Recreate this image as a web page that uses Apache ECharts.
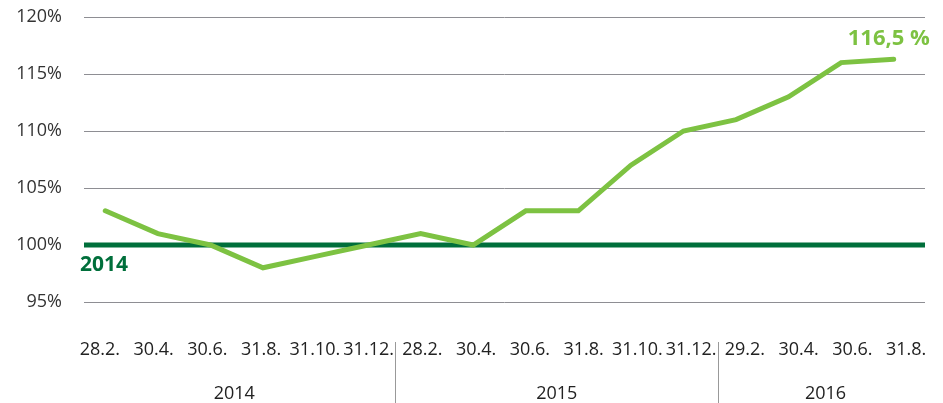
<!DOCTYPE html>
<html>
<head>
<meta charset="utf-8">
<script src="https://cdn.jsdelivr.net/npm/echarts@6/dist/echarts.min.js"></script>
<style>
html,body{margin:0;padding:0;background:#fff;}
#chart{width:943px;height:403px;}
</style>
</head>
<body>
<div id="chart"></div>
<script>
// ---- data ----
var dates = ['28.2.','30.4.','30.6.','31.8.','31.10.','31.12.','28.2.','30.4.','30.6.','31.8.','31.10.','31.12.','29.2.','30.4.','30.6.','31.8.'];
var values = [103, 101, 100, 98, 99, 100, 101, 100, 103, 103, 107, 110, 111, 113, 116, 116.3];
var years = ['2014', '2015', '2016'];
var yearCounts = [6, 6, 4];
var baseValue = 100;
var baseLabel = '2014';
var endLabel = '116,5 %';
var yMin = 95, yMax = 120, yStep = 5;

// ---- derived year-axis slots (half-category boundaries) ----
var slots = [];
for (var k = 0; k <= dates.length * 2; k++) slots.push('');
var sepSlots = {};
var start = 0;
years.forEach(function (y, i) {
  slots[2 * start + yearCounts[i]] = y;
  if (start > 0) sepSlots[2 * start] = true;
  start += yearCounts[i];
});

var FONT = '"Open Sans", "Noto Sans", sans-serif';
var LIGHT = '#7dc242';
var DARK = '#006f3b';

var chart = echarts.init(document.getElementById('chart'), null, {renderer: 'canvas'});
chart.setOption({
  animation: false,
  backgroundColor: '#fff',
  grid: [
    {left: 84, right: 18, top: 17, bottom: 101},   // gridlines + baseline
    {left: 79, right: 23, top: 17, bottom: 101},   // data line
    {left: 73, right: 10, top: 17, bottom: 101}    // category labels
  ],
  xAxis: [
    {type: 'value', gridIndex: 0, min: 0, max: 1, show: false},
    {type: 'category', gridIndex: 1, data: dates, boundaryGap: true, show: false},
    {
      type: 'category', gridIndex: 2, data: dates, boundaryGap: true,
      axisLine: {show: false}, axisTick: {show: false}, splitLine: {show: false},
      axisLabel: {interval: 0, margin: 39, fontSize: 18, color: '#222', fontFamily: FONT}
    },
    {
      type: 'category', gridIndex: 2, data: slots, boundaryGap: false,
      position: 'bottom', offset: 40,
      axisLine: {show: false},
      axisTick: {
        show: true, length: 62, inside: false,
        interval: function (idx) { return !!sepSlots[idx]; },
        lineStyle: {color: '#999', width: 1}
      },
      splitLine: {show: false},
      axisLabel: {interval: 0, margin: 43, fontSize: 18, color: '#222', fontFamily: FONT}
    }
  ],
  yAxis: [
    {
      type: 'value', gridIndex: 0, min: yMin, max: yMax, interval: yStep,
      axisLine: {show: false}, axisTick: {show: false},
      axisLabel: {margin: 22, fontSize: 18, color: '#333', fontFamily: FONT,
        formatter: function (v) { return v + '%'; }},
      splitLine: {show: true, lineStyle: {color: '#8e8e93', width: 1}}
    },
    {type: 'value', gridIndex: 1, min: yMin, max: yMax, interval: yStep, show: false, splitLine: {show: false}},
    {type: 'value', gridIndex: 2, min: yMin, max: yMax, interval: yStep, show: false, splitLine: {show: false}}
  ],
  series: [
    {
      type: 'line', xAxisIndex: 0, yAxisIndex: 0, z: 2,
      data: [[0, baseValue], [1, baseValue]],
      symbol: 'none', silent: true,
      lineStyle: {color: DARK, width: 5, cap: 'butt'},
      label: {show: false},
      markPoint: {
        symbol: 'circle', symbolSize: 0,
        data: [{coord: [0, baseValue]}],
        label: {
          show: true, formatter: baseLabel, position: 'bottom', distance: 10,
          align: 'left', offset: [-4, 0],
          fontSize: 21, fontWeight: 'bold', color: DARK, fontFamily: FONT
        }
      }
    },
    {
      type: 'line', xAxisIndex: 1, yAxisIndex: 1, z: 3,
      data: values, symbol: 'none', smooth: false,
      lineStyle: {color: LIGHT, width: 5, cap: 'round', join: 'miter'},
      endLabel: {
        show: true, formatter: endLabel, fontSize: 22, fontWeight: 'bold',
        color: LIGHT, fontFamily: FONT, offset: [-54, -20]
      }
    }
  ]
});
</script>
</body>
</html>
